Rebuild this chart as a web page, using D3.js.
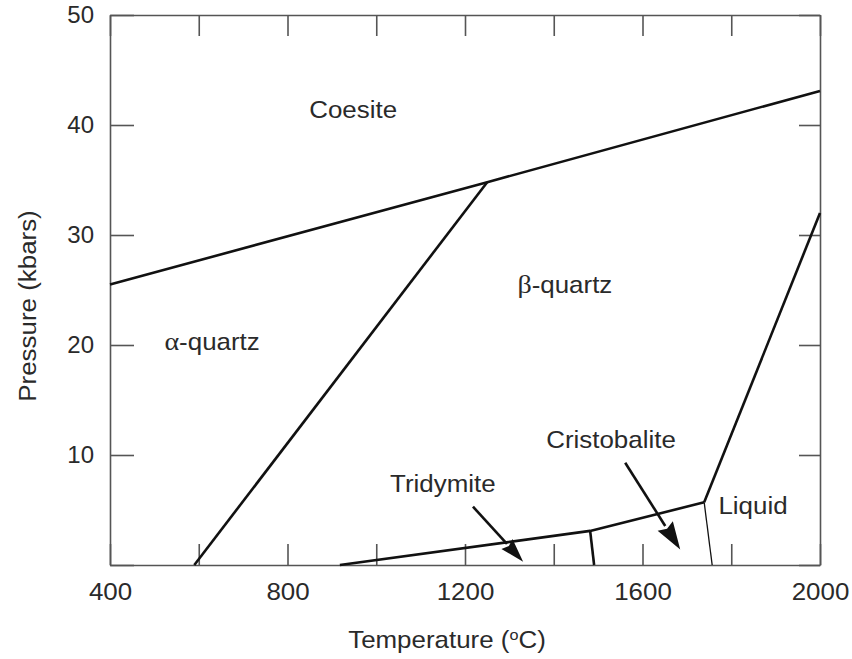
<!DOCTYPE html>
<html>
<head>
<meta charset="utf-8">
<script src="https://cdn.jsdelivr.net/npm/d3@7"></script>
<style>
  body { margin: 0; background: #fff; }
  text { font-family: "Liberation Sans", Arial, Helvetica, sans-serif; fill: #2a2a2a; }
  .greek { font-family: "Liberation Serif", "DejaVu Serif", serif; }
</style>
</head>
<body>
<div id="chart"></div>
<script>
// phase boundaries, [temperature °C, pressure kbar]
const coesiteLine = [[400, 25.5], [1250, 34.8], [2000, 43.1]];
const alphaBetaLine = [[590, 0], [1250, 34.8]];
const quartzLine = [[918, 0], [1482, 3.1], [1739, 5.7]];
const meltingLine = [[1739, 5.7], [2000, 32]];
const tridCristLine = [[1482, 3.1], [1491, 0]];
const cristLiquidLine = [[1739, 5.7], [1757, 0]];

// arrows: from -> to
const tridymiteArrow = [[1218, 5.3], [1331, 0.3]];
const cristobaliteArrow = [[1561, 9.3], [1685, 1.4]];

// phase labels
const phaseNames = ["Coesite", "β-quartz", "α-quartz", "Cristobalite", "Tridymite", "Liquid"];
const phaseT = [948, 1425, 630, 1529, 1150, 1849];
const phaseP = [41.4, 25.5, 20.3, 11.4, 7.45, 5.45];

const xTicks = [400, 600, 800, 1000, 1200, 1400, 1600, 1800, 2000];
const xLabels = [400, 800, 1200, 1600, 2000];
const yTicks = [0, 10, 20, 30, 40, 50];
const yLabels = [10, 20, 30, 40, 50];

const width = 852, height = 659;
const stretch = 1.08; // the original lettering is a bit wide
const fs = 24;

const svg = d3.select("#chart").append("svg")
    .attr("width", width)
    .attr("height", height);

const x = d3.scaleLinear().domain([400, 2000]).range([110, 820]);
const y = d3.scaleLinear().domain([0, 50]).range([565, 15]);

// frame + inward ticks
function styleAxis(g) {
    g.selectAll("path.domain").attr("stroke", "#555").attr("stroke-width", 1.6);
    g.selectAll(".tick line").attr("stroke", "#555").attr("stroke-width", 1.6);
    g.selectAll(".tick text")
        .attr("font-size", fs)
        .attr("fill", "#2a2a2a")
        .attr("font-family", "Liberation Sans, Arial, sans-serif");
}

svg.append("g")
    .attr("transform", `translate(0,${y(0)})`)
    .call(d3.axisBottom(x).tickValues(xTicks).tickSizeInner(-21).tickSizeOuter(0).tickPadding(18)
        .tickFormat(d => xLabels.includes(d) ? d : ""))
    .call(styleAxis)
    .call(g => g.selectAll(".tick text").attr("transform", `scale(${stretch},1)`));

svg.append("g")
    .attr("transform", `translate(0,${y(50)})`)
    .call(d3.axisTop(x).tickValues(xTicks).tickSizeInner(-21).tickSizeOuter(0).tickFormat(""))
    .call(styleAxis);

svg.append("g")
    .attr("transform", `translate(${x(400)},0)`)
    .call(d3.axisLeft(y).tickValues(yTicks).tickSizeInner(-24).tickSizeOuter(0).tickPadding(16)
        .tickFormat(d => yLabels.includes(d) ? d : ""))
    .call(styleAxis);

svg.append("g")
    .attr("transform", `translate(${x(2000)},0)`)
    .call(d3.axisRight(y).tickValues(yTicks).tickSizeInner(-21).tickSizeOuter(0).tickFormat(""))
    .call(styleAxis);

// boundaries
const line = d3.line().x(d => x(d[0])).y(d => y(d[1]));

function drawLine(pts, w) {
    svg.append("path")
        .datum(pts)
        .attr("d", line)
        .attr("fill", "none")
        .attr("stroke", "#111")
        .attr("stroke-width", w)
        .attr("stroke-linejoin", "miter");
}

drawLine(coesiteLine, 2.6);
drawLine(alphaBetaLine, 2.6);
drawLine(quartzLine, 2.6);
drawLine(meltingLine, 2.6);
drawLine(tridCristLine, 2.6);
drawLine(cristLiquidLine, 1.3);

// arrows
function drawArrow(a, headLen, headW) {
    const x0 = x(a[0][0]), y0 = y(a[0][1]);
    const x1 = x(a[1][0]), y1 = y(a[1][1]);
    const ang = Math.atan2(y1 - y0, x1 - x0);
    const bx = x1 - headLen * Math.cos(ang), by = y1 - headLen * Math.sin(ang);
    svg.append("line")
        .attr("x1", x0).attr("y1", y0)
        .attr("x2", bx).attr("y2", by)
        .attr("stroke", "#111").attr("stroke-width", 2.6);
    const px = -Math.sin(ang) * headW / 2, py = Math.cos(ang) * headW / 2;
    svg.append("path")
        .attr("d", `M${x1},${y1}L${bx + px},${by + py}L${bx + headLen * 0.12 * Math.cos(ang)},${by + headLen * 0.12 * Math.sin(ang)}L${bx - px},${by - py}Z`)
        .attr("fill", "#111");
}

drawArrow(tridymiteArrow, 24, 15);
drawArrow(cristobaliteArrow, 28, 18);

// phase labels
phaseNames.forEach((name, i) => {
    const t = svg.append("text")
        .attr("transform", `translate(${x(phaseT[i])},${y(phaseP[i])}) scale(${stretch},1)`)
        .attr("text-anchor", "middle")
        .attr("dy", "0.36em")
        .attr("font-size", fs);
    if (name[0] === "α" || name[0] === "β") {
        t.append("tspan").attr("class", "greek").attr("font-size", 26).text(name[0]);
        t.append("tspan").text(name.slice(1));
    } else {
        t.text(name);
    }
});

// axis titles
const xt = svg.append("text")
    .attr("transform", `translate(447,648) scale(${stretch},1)`)
    .attr("text-anchor", "middle")
    .attr("font-size", fs);
xt.append("tspan").text("Temperature (");
xt.append("tspan").attr("font-size", 15).attr("dy", -8).text("o");
xt.append("tspan").attr("dy", 8).text("C)");

svg.append("text")
    .attr("transform", `translate(36,306) rotate(-90) scale(${stretch},1)`)
    .attr("text-anchor", "middle")
    .attr("font-size", fs)
    .text("Pressure (kbars)");
</script>
</body>
</html>
